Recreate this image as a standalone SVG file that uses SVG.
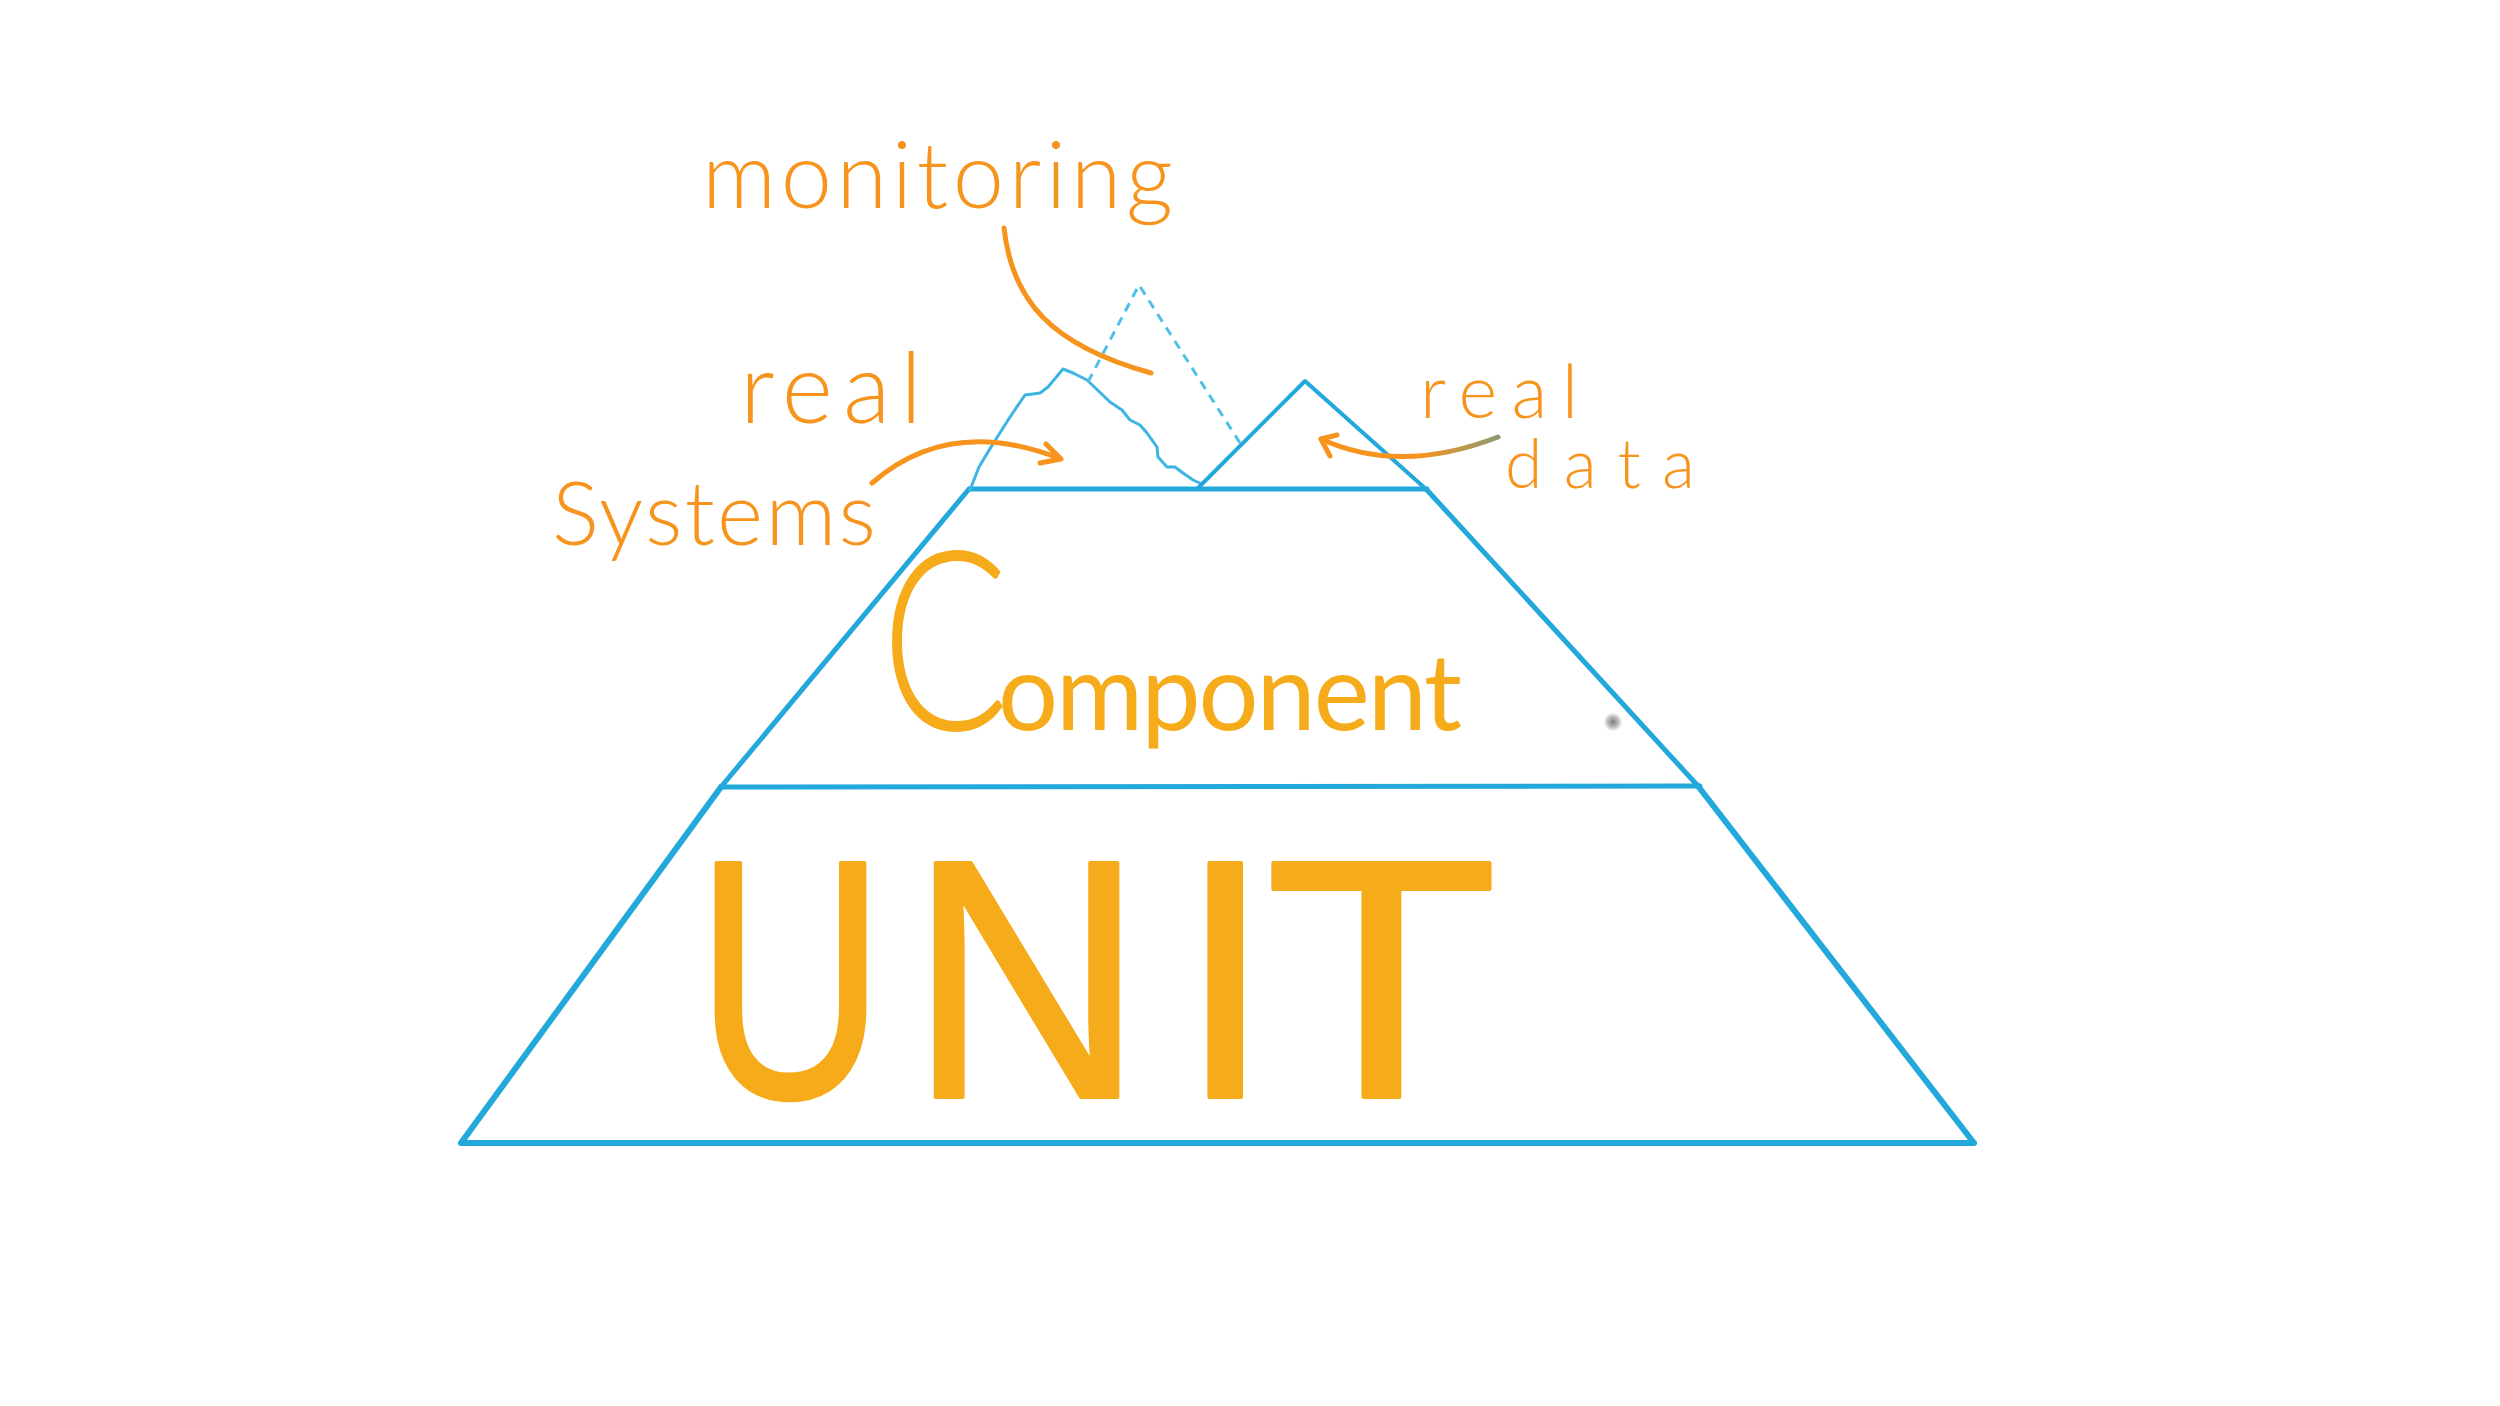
<svg xmlns="http://www.w3.org/2000/svg" width="2500" height="1406" viewBox="0 0 2500 1406">
<style>
.edge{fill:none;stroke:#22A8DB;stroke-width:5;stroke-linecap:round;stroke-linejoin:round}
.thin{fill:none;stroke:#3DB5E2;stroke-width:3;stroke-linecap:round;stroke-linejoin:round}
.dash{fill:none;stroke:#4FC1E8;stroke-width:3;stroke-dasharray:9 7}
.note{font-family:Lato,"Liberation Sans",sans-serif;font-weight:300;fill:#F7941E}
.big{fill:#F6AB1B}
.arrow{fill:none;stroke:#F7941E;stroke-width:5;stroke-linecap:round;stroke-linejoin:round}
</style>
<defs>
<linearGradient id="fade" gradientUnits="userSpaceOnUse" x1="1420" y1="0" x2="1498" y2="0">
<stop offset="0" stop-color="#F7941E"/><stop offset="1" stop-color="#8E9A6E"/>
</linearGradient>
<radialGradient id="smudge"><stop offset="0" stop-color="#777"/><stop offset="0.6" stop-color="#aaa" stop-opacity="0.7"/><stop offset="1" stop-color="#ddd" stop-opacity="0"/></radialGradient>
</defs>
<rect width="2500" height="1406" fill="#fff"/>

<g id="unit-layer">
<path class="edge" d="M461,1143 L1974,1143 M461,1143 L721,787 M1974,1143 L1698,786" style="stroke-width:6"/>
<text class="big" y="1097" font-family="'Liberation Sans',Arial,sans-serif" font-size="340" stroke="#F6AB1B" stroke-width="4" stroke-linejoin="round"><tspan x="696" textLength="189" lengthAdjust="spacingAndGlyphs">U</tspan><tspan x="909" textLength="235" lengthAdjust="spacingAndGlyphs">N</tspan><tspan x="1178">I</tspan><tspan x="1265" textLength="233" lengthAdjust="spacingAndGlyphs">T</tspan></text>
</g>

<g id="component-layer">
<path class="edge" d="M721,787 L1700,786 M721,787 L969,489 M1698,786 L1427,490 M969,489 L1427,489"/>
<text class="big" y="730" font-family="Lato,'Liberation Sans',sans-serif"><tspan x="881" font-size="250" font-weight="300" textLength="128" lengthAdjust="spacingAndGlyphs">C</tspan><tspan x="998" font-size="106" font-weight="400" textLength="464" lengthAdjust="spacing">omponent</tspan></text>
<circle cx="1613" cy="722" r="10" fill="url(#smudge)"/>
</g>

<g id="systems-layer">
<path class="thin" d="M970,490 L979,467 L991,447 L1010,417 L1025,395 L1040,393 L1048,387 L1063,369 L1073,373 L1087,380 L1110,402 L1122,410 L1130,420 L1140,425 L1147,433 L1157,447 L1158,457 L1167,467 L1175,467 L1183,473 L1193,480 L1202,484"/>
<path class="edge" d="M1199,487 L1305,381 L1427,490" style="stroke-width:4"/>
<path class="dash" d="M1088,382 L1139,285 L1240,443"/>
</g>

<g id="labels">
<text class="note" x="702" y="208" font-size="92" textLength="471" lengthAdjust="spacing">monitoring</text>
<text class="note" x="740" y="423" font-size="98" textLength="182" lengthAdjust="spacing">real</text>
<text class="note" x="552" y="545" font-size="88" textLength="324" lengthAdjust="spacing">Systems</text>
<text class="note" x="1420" y="418" font-size="74" textLength="158" lengthAdjust="spacing">real</text>
<text class="note" x="1505" y="488" font-size="68" textLength="190" lengthAdjust="spacing">data</text>
</g>

<g id="connectors">
<path class="arrow" d="M1004,228 C1012,300 1050,345 1151,373"/>
<path class="arrow" d="M872,483 Q950,415 1061,459 M1046,444 L1061,459 L1040,463"/>
<path class="arrow" d="M1498,437 Q1400,475 1321,439" style="stroke:url(#fade)"/>
<path class="arrow" d="M1337,435 L1321,439 L1330,456"/>
</g>
</svg>
